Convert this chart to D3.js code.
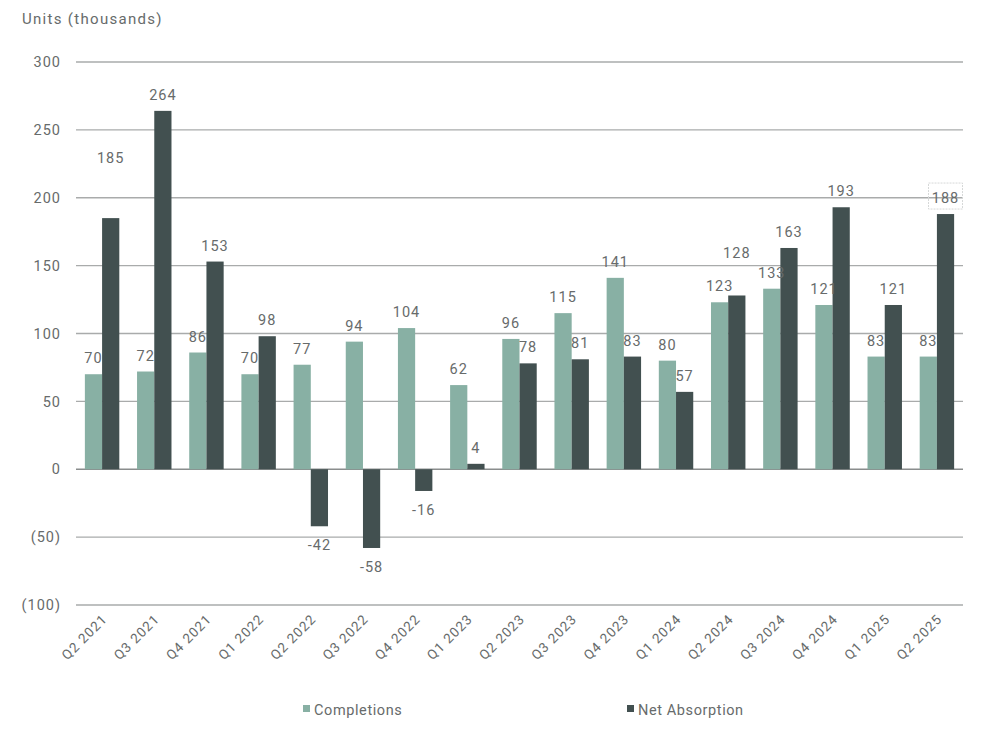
<!DOCTYPE html>
<html>
<head>
<meta charset="utf-8">
<script src="https://cdn.jsdelivr.net/npm/d3@7"></script>
<style>
  body { margin: 0; background: #fff; }
  text { font-family: Roboto, "Noto Sans", sans-serif; fill: #676b6b; letter-spacing: 1px; }
</style>
</head>
<body>
<div id="chart"></div>
<script>
// quarters on the x axis
var quarters = ["Q2 2021", "Q3 2021", "Q4 2021", "Q1 2022", "Q2 2022", "Q3 2022",
                "Q4 2022", "Q1 2023", "Q2 2023", "Q3 2023", "Q4 2023", "Q1 2024",
                "Q2 2024", "Q3 2024", "Q4 2024", "Q1 2025", "Q2 2025"];

// series values (thousands of units)
var completions = [70, 72, 86, 70, 77, 94, 104, 62, 96, 115, 141, 80, 123, 133, 121, 83, 83];
var netAbsorption = [185, 264, 153, 98, -42, -58, -16, 4, 78, 81, 83, 57, 128, 163, 193, 121, 188];

// y axis ticks
var yTicks = [-100, -50, 0, 50, 100, 150, 200, 250, 300];

var seriesNames = ["Completions", "Net Absorption"];
var colors = ["#88b0a4", "#425050"];

// a few labels were moved up in the original to keep clear of others
var labelLift = {"Q2 2021": 44, "Q2 2024": 26};

var width = 984, height = 730;
var margin = {top: 62, right: 21, bottom: 125, left: 76};
var innerW = width - margin.left - margin.right,
    innerH = height - margin.top - margin.bottom;

var svg = d3.select("#chart").append("svg")
    .attr("width", width)
    .attr("height", height);

var g = svg.append("g")
    .attr("transform", "translate(" + margin.left + "," + margin.top + ")");

// scales
var x0 = d3.scaleBand()
    .domain(quarters)
    .range([0, innerW])
    .paddingInner(0.34)
    .paddingOuter(0.17);

var x1 = d3.scaleBand()
    .domain(seriesNames)
    .range([0, x0.bandwidth()]);

var y = d3.scaleLinear()
    .domain([-100, 300])
    .range([innerH, 0]);

// gridlines
g.append("g")
    .selectAll("line")
    .data(yTicks)
  .enter().append("line")
    .attr("x1", 0)
    .attr("x2", innerW)
    .attr("y1", function(d) { return y(d); })
    .attr("y2", function(d) { return y(d); })
    .attr("stroke", function(d) { return d == 0 ? "#8a8d8d" : "#a9abab"; })
    .attr("stroke-width", 1.3);

// y axis labels
var yAxis = d3.axisLeft(y)
    .tickValues(yTicks)
    .tickSize(0)
    .tickPadding(15)
    .tickFormat(function(d) { return d < 0 ? "(" + Math.abs(d) + ")" : d; });

g.append("g")
    .attr("class", "yAxis")
    .call(yAxis)
    .call(function(s) { s.select(".domain").remove(); })
    .selectAll("text")
      .style("font-size", "14.5px")
      .style("font-family", null)
      .attr("fill", null);

// axis title
svg.append("text")
    .attr("x", 22)
    .attr("y", 24)
    .style("font-size", "15px")
    .style("letter-spacing", "1.3px")
    .text("Units (thousands)");

// group rows
var rows = quarters.map(function(q, i) {
  return {q: q, vals: [completions[i], netAbsorption[i]]};
});

var groups = g.selectAll(".grp")
    .data(rows)
  .enter().append("g")
    .attr("class", "grp")
    .attr("transform", function(d) { return "translate(" + x0(d.q) + ",0)"; });

groups.selectAll("rect")
    .data(function(d) { return d.vals.map(function(v, k) { return {q: d.q, s: seriesNames[k], v: v, k: k}; }); })
  .enter().append("rect")
    .attr("x", function(d) { return x1(d.s); })
    .attr("width", x1.bandwidth())
    .attr("y", function(d) { return y(Math.max(0, d.v)); })
    .attr("height", function(d) { return Math.abs(y(d.v) - y(0)); })
    .attr("fill", function(d) { return colors[d.k]; });

// value labels
groups.selectAll("text.val")
    .data(function(d) { return d.vals.map(function(v, k) { return {q: d.q, s: seriesNames[k], v: v, k: k}; }); })
  .enter().append("text")
    .attr("class", "val")
    .attr("x", function(d) { return x1(d.s) + x1.bandwidth() / 2; })
    .attr("y", function(d) {
      if (d.v < 0) return y(d.v) + 24;
      var lift = (d.k == 1 && labelLift[d.q]) ? labelLift[d.q] : 0;
      return y(d.v) - 11 - lift;
    })
    .attr("text-anchor", "middle")
    .style("font-size", "14.5px")
    .text(function(d) { return d.v; });

// highlight box around the last label
var last = quarters[quarters.length - 1];
g.append("rect")
    .attr("x", x0(last) + x1("Net Absorption") + x1.bandwidth() / 2 - 17)
    .attr("y", y(netAbsorption[netAbsorption.length - 1]) - 31)
    .attr("width", 34)
    .attr("height", 26)
    .attr("fill", "#fff")
    .attr("fill-opacity", 0)
    .attr("stroke", "#d6d8d8")
    .attr("stroke-dasharray", "2,1");

// x axis labels
g.append("g")
    .selectAll("text")
    .data(quarters)
  .enter().append("text")
    .attr("text-anchor", "end")
    .attr("transform", function(d) {
      return "translate(" + (x0(d) + x0.bandwidth() / 2 + 6) + "," + (innerH + 15) + ") rotate(-45)";
    })
    .style("font-size", "13.5px")
    .text(function(d) { return d; });

// legend
var legendX = [303, 627];
var legend = svg.selectAll(".legend")
    .data(seriesNames)
  .enter().append("g")
    .attr("class", "legend")
    .attr("transform", function(d, i) { return "translate(" + legendX[i] + ",705)"; });

legend.append("rect")
    .attr("width", 7)
    .attr("height", 7)
    .attr("fill", function(d, i) { return colors[i]; });

legend.append("text")
    .attr("x", 11)
    .attr("y", 10)
    .style("font-size", "14.5px")
    .style("letter-spacing", "0.6px")
    .text(function(d) { return d; });
</script>
</body>
</html>
